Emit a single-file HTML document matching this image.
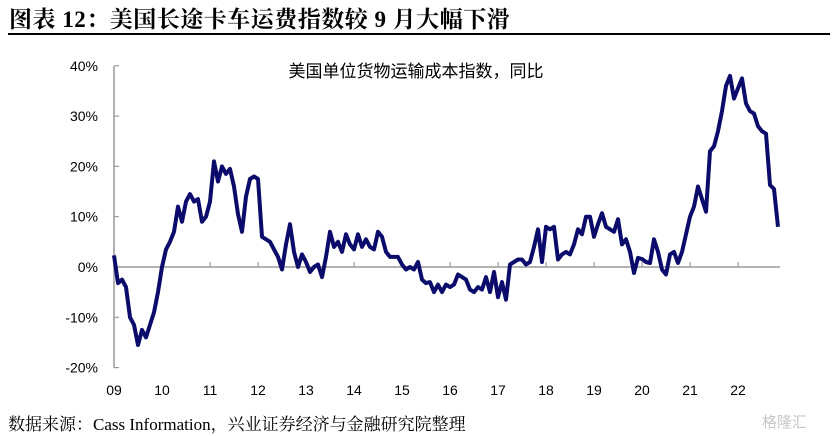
<!DOCTYPE html>
<html><head><meta charset="utf-8"><style>
body{margin:0;background:#fff;}
#wrap{position:relative;width:836px;height:436px;overflow:hidden;background:#fff;}
.t{position:absolute;white-space:nowrap;}
</style></head><body>
<div id="wrap">
<div class="t" style="left:9px;top:1px;font:bold 23px 'Liberation Serif','Noto Serif CJK SC',serif;color:#000;letter-spacing:0.5px;">图表 12：美国长途卡车运费指数较 9 月大幅下滑</div>
<div style="position:absolute;left:8px;top:33px;width:822px;height:2px;background:#000;"></div>
<svg id="chart" width="836" height="436" style="position:absolute;left:0;top:0;font-family:'Liberation Sans','Noto Sans CJK SC',sans-serif;"></svg>
<div class="t" style="left:8px;top:410px;font:17px 'Liberation Serif','Noto Serif CJK SC',serif;color:#000;">数据来源：Cass Information，兴业证券经济与金融研究院整理</div>
<div class="t" style="left:762px;top:411px;font:15px 'Liberation Sans','Noto Sans CJK SC',sans-serif;color:#c8c8c8;">格隆汇</div>
</div>
<script>
const years = ['09','10','11','12','13','14','15','16','17','18','19','20','21','22'];
const yTicks = [-20,-10,0,10,20,30,40];
const yTickLabels = ['-20%','-10%','0%','10%','20%','30%','40%'];
const y2009 = [2.3,-3.2,-2.5,-4,-10,-11.5,-15.5,-12.5,-14,-11.5,-9,-5];
const y2010 = [0,3.5,5,7,12,9,13,14.5,13,13.5,9,10];
const y2011 = [13,21,17,20,18.5,19.5,16,10.5,7,14,17.5,18];
const y2012 = [17.5,6,5.5,5,3.5,2,-0.5,4.5,8.5,3,0,2.5];
const y2013 = [1,-1,0,0.5,-2,2,7,4,5,3,6.5,4.5];
const y2014 = [3.5,6.5,4,5.5,4,3.5,7,6,3,2,2,2];
const y2015 = [0.5,-0.5,0,-0.5,1,-2.5,-3.2,-3,-5,-3.5,-5,-3.5];
const y2016 = [-4,-3.5,-1.5,-2,-2.5,-4.5,-5,-4,-4.5,-2,-5,-1];
const y2017 = [-6,-3,-6.5,0.5,1,1.5,1.5,0.5,1,4,7.5,1];
const y2018 = [8,7.5,8,1.5,2.5,3,2.5,4.5,7.5,6.5,10,10];
const y2019 = [6,8.5,10.7,8,7.5,7,9.5,4.5,5.5,3,-1.2,1.8];
const y2020 = [1.6,1,0.8,5.5,3,-0.5,-1.5,2.5,3,0.8,3,6.5];
const y2021 = [10,12,16,13.5,11,23,24,27,31,36,38,33.5];
const y2022 = [35.5,37.5,32.5,31,30.5,28,27,26.5,16.3,15.5,8];
const series = [].concat(y2009,y2010,y2011,y2012,y2013,y2014,y2015,y2016,y2017,y2018,y2019,y2020,y2021,y2022);

const NS='http://www.w3.org/2000/svg';
const svg=document.getElementById('chart');
const X0=114, MONTH=4, Y0=267, PX10=50.3;
const xScale=i=>X0+i*MONTH;
const yScale=v=>Y0-v*PX10/10;
function mk(tag,attrs){const e=document.createElementNS(NS,tag);for(const k in attrs)e.setAttribute(k,attrs[k]);svg.appendChild(e);return e;}

const yAxis=mk('line',{x1:X0,x2:X0,y1:yScale(40),y2:yScale(-20),stroke:'#999','stroke-width':1.5});


yTicks.forEach((v,k)=>{
  const tk=mk('line',{x1:X0,x2:X0+5,y1:yScale(v),y2:yScale(v),stroke:'#999','stroke-width':1.2});
  
  
  const lb=mk('text',{x:X0-16,y:yScale(v)+5,'text-anchor':'end','font-size':14,fill:'#000'});
  lb.textContent=yTickLabels[k];
  
  
});
const xAxis=mk('line',{x1:X0,x2:xScale(series.length-1)+2,y1:yScale(0),y2:yScale(0),stroke:'#999','stroke-width':1.5});


years.forEach((yr,k)=>{
  const x=xScale(k*12);
  const tk=mk('line',{x1:x,x2:x,y1:yScale(0),y2:yScale(0)-5,stroke:'#999','stroke-width':1.2});
  
  
  const lb=mk('text',{x:x,y:395,'text-anchor':'middle','font-size':14,fill:'#000'});
  lb.textContent=yr;
  
  
});
const d=series.map((v,i)=>(i?'L':'M')+xScale(i).toFixed(1)+','+yScale(v).toFixed(1)).join(' ');
const line=mk('path',{d:d,fill:'none',stroke:'#0b0b6b','stroke-width':4,'stroke-linejoin':'round'});


const lg=mk('text',{x:416,y:77,'text-anchor':'middle','font-size':17,fill:'#000'});
lg.textContent='美国单位货物运输成本指数，同比';


</script>
</body></html>
